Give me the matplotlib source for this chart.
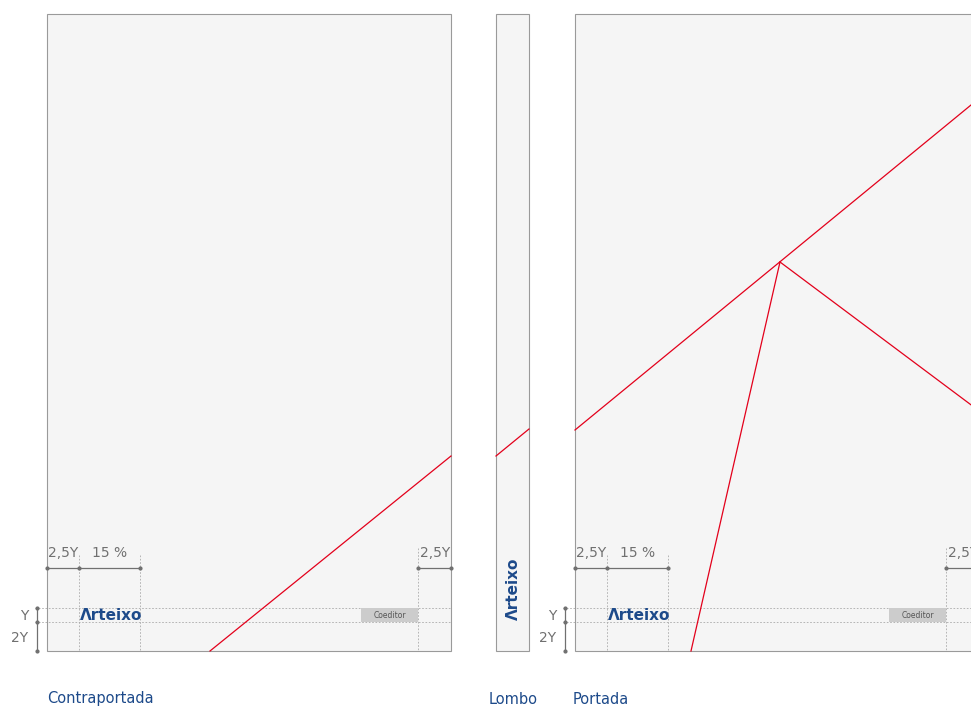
import matplotlib
matplotlib.use("Agg")
import matplotlib.pyplot as plt
from matplotlib.patches import Rectangle

# panels (pixel units of the drawing)
panel_names = ["Contraportada", "Lombo", "Portada"]
panel_left = [47, 496, 575]
panel_right = [451, 529, 1010]
panel_top = 14
panel_bottom = 651
label_x = [47, 489, 573]

# red guide lines, one list of points per segment
red_x = [[210, 451], [496, 529], [575, 1010], [780, 1010], [780, 691]]
red_y = [[651, 456], [456, 429], [430, 73], [262, 434], [262, 651]]

# margin labels
dim_labels = ["2,5Y", "15 %", "2,5Y"]
row_labels = ["Y", "2Y"]
logo_text = "\u039brteixo"
coeditor_text = "Coeditor"

grey = "#707070"
navy = "#1d4a8a"

fig = plt.figure(figsize=(9.71, 7.09), dpi=100)
ax = fig.add_axes([0, 0, 1, 1])
ax.set_xlim(0, 971)
ax.set_ylim(709, 0)
ax.axis("off")

for i, name in enumerate(panel_names):
    ax.add_patch(Rectangle((panel_left[i], panel_top), panel_right[i] - panel_left[i],
                           panel_bottom - panel_top, facecolor="#f5f5f5",
                           edgecolor="#9a9a9a", lw=0.8, zorder=1))
    ax.text(label_x[i], 699, name, color=navy, fontsize=10.5, ha="left", va="center")

for xs, ys in zip(red_x, red_y):
    ax.plot(xs, ys, color="#e3001b", lw=0.9, zorder=3)


def cover_marks(x0, x_right):
    # x0: left edge of cover, x_right: right margin line
    xa = x0 + 32
    xb = x0 + 93
    ys = [608, 622]
    for y in ys:
        ax.plot([x0 - 12, x_right + 33], [y, y], color="#aaaaaa", lw=0.6,
                ls=(0, (2, 2)), zorder=2)
    for x in [xa, xb]:
        ax.plot([x, x], [555, panel_bottom], color="#aaaaaa", lw=0.6,
                ls=(0, (2, 2)), zorder=2)
    ax.plot([x_right, x_right], [548, panel_bottom], color="#aaaaaa", lw=0.6,
            ls=(0, (2, 2)), zorder=2)
    # horizontal dimensions
    ax.plot([x0, xa, xb], [568, 568, 568], color=grey, lw=0.9, marker="o", ms=2, zorder=4)
    ax.plot([x_right, x_right + 33], [568, 568], color=grey, lw=0.9, marker="o", ms=2, zorder=4)
    ax.text((x0 + xa) / 2, 553, dim_labels[0], color=grey, fontsize=10, ha="center", va="center")
    ax.text((xa + xb) / 2, 553, dim_labels[1], color=grey, fontsize=10, ha="center", va="center")
    ax.text(x_right + 17, 553, dim_labels[2], color=grey, fontsize=10, ha="center", va="center")
    # vertical dimension
    ax.plot([x0 - 10] * 3, [608, 622, 651], color=grey, lw=0.9, marker="o", ms=2, zorder=4)
    ax.text(x0 - 19, 616, row_labels[0], color=grey, fontsize=10, ha="right", va="center")
    ax.text(x0 - 19, 638, row_labels[1], color=grey, fontsize=10, ha="right", va="center")
    # logo and co-editor box
    ax.text(xa + 1, 616, logo_text, color=navy, fontsize=11, fontweight="bold",
            ha="left", va="center", zorder=5)
    ax.add_patch(Rectangle((x_right - 57, 608), 57, 14, facecolor="#cccccc",
                           edgecolor="none", zorder=4))
    ax.text(x_right - 28.5, 615, coeditor_text, color="#555555", fontsize=5.5,
            ha="center", va="center", zorder=5)


cover_marks(47, 418)
cover_marks(575, 946)

ax.text(513, 589, logo_text, color=navy, fontsize=11, fontweight="bold",
        rotation=90, ha="center", va="center", zorder=5)

fig.savefig("out.png", dpi=100)
